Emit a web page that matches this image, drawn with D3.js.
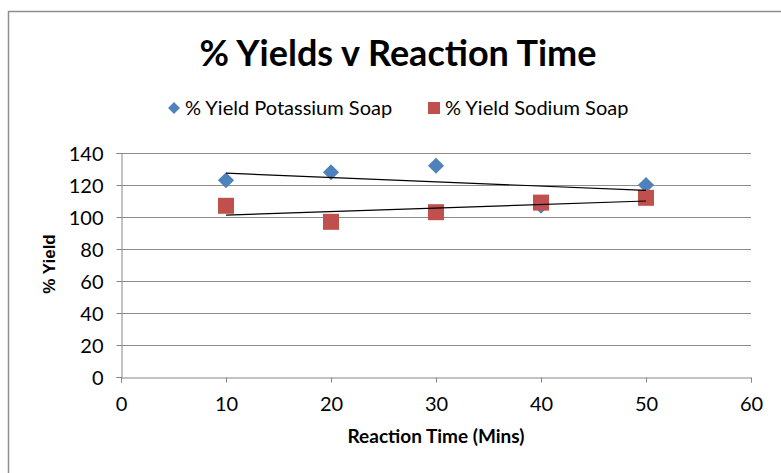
<!DOCTYPE html>
<html>
<head>
<meta charset="utf-8">
<script src="https://cdn.jsdelivr.net/npm/d3@7"></script>
<style>
  body { margin: 0; background: #fff; }
  text { font-family: Lato, "Open Sans", sans-serif; fill: #000; }
</style>
</head>
<body>
<svg width="781" height="473"></svg>
<script>
// data
var times = [10, 20, 30, 40, 50]
var potassium = [123, 128, 132, 107, 120]
var sodium = [107, 97, 103, 109, 112]
var x_ticks = [0, 10, 20, 30, 40, 50, 60]
var y_ticks = [0, 20, 40, 60, 80, 100, 120, 140]
var series_names = ["% Yield Potassium Soap", "% Yield Sodium Soap"]
var series_colors = ["#4f81bd", "#c0504d"]

var svg = d3.select("svg")

var plot_left = 121, plot_right = 751
var plot_top = 153, plot_bottom = 377

var x = d3.scaleLinear().domain([0, 60]).range([plot_left, plot_right])
var y = d3.scaleLinear().domain([0, 140]).range([plot_bottom, plot_top])

// chart frame (runs off the right / bottom edge)
svg.append("rect")
  .attr("x", 8.5).attr("y", 11.5)
  .attr("width", 800).attr("height", 500)
  .attr("fill", "none")
  .attr("stroke", "#8e8e8e")
  .attr("stroke-width", 1.5)

svg.append("text")
  .attr("x", 398).attr("y", 66)
  .attr("text-anchor", "middle")
  .style("font-size", "36px")
  .style("font-weight", "bold")
  .text("% Yields v Reaction Time")

// gridlines
svg.append("g")
  .selectAll("line")
  .data(y_ticks.filter(function(d){ return d > 0 }))
  .enter()
  .append("line")
  .attr("x1", plot_left).attr("x2", plot_right)
  .attr("y1", function(d){ return Math.round(y(d)) + 0.5 })
  .attr("y2", function(d){ return Math.round(y(d)) + 0.5 })
  .attr("stroke", "#8c8c8c")
  .attr("stroke-width", 1)

// axes
var x_axis = svg.append("g")
  .attr("transform", "translate(0," + (plot_bottom + 0.5) + ")")
  .call(d3.axisBottom(x).tickValues(x_ticks).tickSize(5).tickPadding(14))
var y_axis = svg.append("g")
  .attr("transform", "translate(" + (plot_left + 0.5) + ",0)")
  .call(d3.axisLeft(y).tickValues(y_ticks).tickSize(5).tickPadding(13))

for (ax of [x_axis, y_axis]) {
  ax.select(".domain").attr("stroke", "#868686")
  ax.selectAll(".tick line").attr("stroke", "#868686")
  ax.selectAll(".tick text")
    .style("font-family", "Lato, sans-serif")
    .style("font-size", "20px")
    .attr("fill", "#000")
}
y_axis.selectAll(".tick text").attr("dy", "0.35em")

// axis titles
svg.append("text")
  .attr("x", 436).attr("y", 443)
  .attr("text-anchor", "middle")
  .style("font-size", "19px")
  .style("font-weight", "bold")
  .text("Reaction Time (Mins)")

svg.append("text")
  .attr("transform", "translate(55,264) rotate(-90)")
  .attr("text-anchor", "middle")
  .style("font-family", "'Liberation Sans', Arial, sans-serif")
  .style("font-size", "17px")
  .style("font-weight", "bold")
  .text("% Yield")

// trendlines (least squares)
function trend(xs, ys) {
  var mx = d3.mean(xs), my = d3.mean(ys)
  var num = 0, den = 0
  for (var i = 0; i < xs.length; i++) {
    num += (xs[i] - mx) * (ys[i] - my)
    den += (xs[i] - mx) * (xs[i] - mx)
  }
  var slope = num / den
  return function(v){ return my + slope * (v - mx) }
}

var pot_points = times.map(function(t, i){ return {t: t, v: potassium[i]} })
var sod_points = times.map(function(t, i){ return {t: t, v: sodium[i]} })

var diamond = d3.symbol().type(d3.symbolSquare).size(130)

svg.append("g")
  .selectAll("path")
  .data(pot_points)
  .enter()
  .append("path")
  .attr("d", diamond)
  .attr("transform", function(d){ return "translate(" + x(d.t) + "," + y(d.v) + ") rotate(45)" })
  .attr("fill", series_colors[0])

svg.append("g")
  .selectAll("rect")
  .data(sod_points)
  .enter()
  .append("rect")
  .attr("x", function(d){ return x(d.t) - 8 })
  .attr("y", function(d){ return y(d.v) - 8 })
  .attr("width", 16).attr("height", 16)
  .attr("fill", series_colors[1])

var trends = [trend(times, potassium), trend(times, sodium)]
svg.append("g")
  .selectAll("line")
  .data(trends)
  .enter()
  .append("line")
  .attr("x1", x(10)).attr("x2", x(50))
  .attr("y1", function(f){ return y(f(10)) })
  .attr("y2", function(f){ return y(f(50)) })
  .attr("stroke", "#000")
  .attr("stroke-width", 1.2)

// legend
var legend = svg.append("g")
var leg_x = [174, 434]
legend.append("path")
  .attr("d", d3.symbol().type(d3.symbolSquare).size(70))
  .attr("transform", "translate(" + leg_x[0] + ",108) rotate(45)")
  .attr("fill", series_colors[0])
legend.append("rect")
  .attr("x", leg_x[1] - 6).attr("y", 102)
  .attr("width", 12).attr("height", 12)
  .attr("fill", series_colors[1])
legend.selectAll("text")
  .data(series_names)
  .enter()
  .append("text")
  .attr("x", function(d, i){ return leg_x[i] + 11 })
  .attr("y", 108)
  .attr("dy", "0.35em")
  .style("font-size", "20px")
  .text(function(d){ return d })
</script>
</body>
</html>
